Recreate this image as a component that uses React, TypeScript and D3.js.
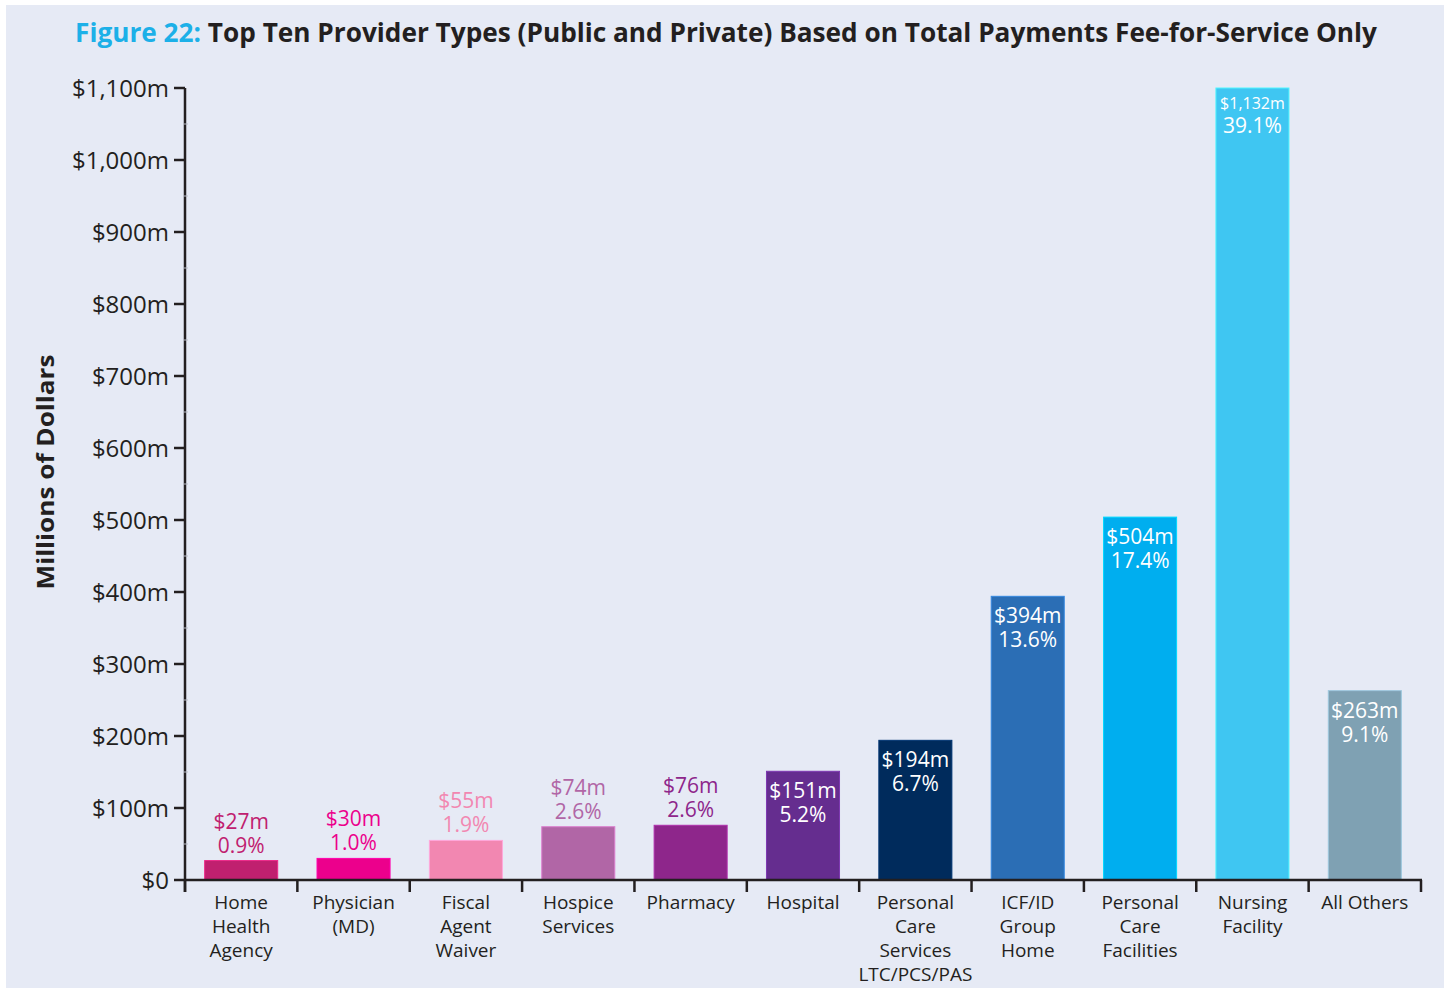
import React from "react";
import * as d3 from "d3";

const categories: string[][] = [
  ["Home", "Health", "Agency"],
  ["Physician", "(MD)"],
  ["Fiscal", "Agent", "Waiver"],
  ["Hospice", "Services"],
  ["Pharmacy"],
  ["Hospital"],
  ["Personal", "Care", "Services", "LTC/PCS/PAS"],
  ["ICF/ID", "Group", "Home"],
  ["Personal", "Care", "Facilities"],
  ["Nursing", "Facility"],
  ["All Others"],
];
const values: number[] = [27, 30, 55, 74, 76, 151, 194, 394, 504, 1132, 263];
const valueLabels: string[] = ["$27m", "$30m", "$55m", "$74m", "$76m", "$151m", "$194m", "$394m", "$504m", "$1,132m", "$263m"];
const pctLabels: string[] = ["0.9%", "1.0%", "1.9%", "2.6%", "2.6%", "5.2%", "6.7%", "13.6%", "17.4%", "39.1%", "9.1%"];
const colors: string[] = ["#c0206f", "#ec008c", "#f287b1", "#b166a6", "#8e268b", "#652d8f", "#002b5c", "#2b6eb5", "#00aeef", "#3fc6f2", "#7fa1b3"];
const yTicks: number[] = [0, 100, 200, 300, 400, 500, 600, 700, 800, 900, 1000, 1100];
const minorTicks: number[] = [50, 150, 250, 350, 450, 550, 650, 750, 850, 950, 1050];

const W = 1449;
const H = 989;
const FONT = "'Open Sans', 'Noto Sans', sans-serif";
const TEXT = "#231f20";

export default function App() {
  const x0 = 185, x1 = 1421, yTop = 88, yBot = 880;
  const keys = categories.map((_, i) => String(i));
  const x = d3.scaleBand<string>().domain(keys).range([x0, x1]).paddingInner(0).paddingOuter(0);
  const y = d3.scaleLinear().domain([0, 1100]).range([yBot, yTop]);
  const bw = x.bandwidth() * 0.65;
  const maxV = y.domain()[1];

  return (
    <svg width={W} height={H} style={{ position: "absolute", left: 0, top: 0 }} fontFamily={FONT}>
      <rect x={0} y={0} width={W} height={H} fill="#ffffff" />
      <rect x={6} y={5} width={1438} height={983} fill="#e6eaf5" />
      <text x={726} y={42} textAnchor="middle" fontSize={27} fontWeight={700} fill={TEXT} textLength={1302} lengthAdjust="spacingAndGlyphs">
        <tspan fill="#1cb0e8">Figure 22:</tspan> Top Ten Provider Types (Public and Private) Based on Total Payments Fee-for-Service Only
      </text>
      <text transform="translate(54,472) rotate(-90)" textAnchor="middle" fontSize={24} fontWeight={700} fill={TEXT} textLength={235} lengthAdjust="spacingAndGlyphs">
        Millions of Dollars
      </text>

      {values.map((v, i) => {
        const cx = (x(String(i)) as number) + x.bandwidth() / 2;
        const top = y(Math.min(v, maxV));
        const inside = i >= 5;
        const big = v > maxV;
        return (
          <g key={i}>
            <rect x={cx - bw / 2} y={top} width={bw} height={yBot - top} fill={colors[i]} stroke={d3.color(colors[i])!.brighter(0.6).formatHex()} strokeWidth={1} />
            {inside ? (
              <text textAnchor="middle" fill="#ffffff">
                <tspan x={cx} y={big ? top + 21 : top + 27} fontSize={big ? 16 : 21}>{valueLabels[i]}</tspan>
                <tspan x={cx} y={big ? top + 45 : top + 51} fontSize={21}>{pctLabels[i]}</tspan>
              </text>
            ) : (
              <text textAnchor="middle" fontSize={21} fill={colors[i]}>
                <tspan x={cx} y={top - 32}>{valueLabels[i]}</tspan>
                <tspan x={cx} y={top - 8}>{pctLabels[i]}</tspan>
              </text>
            )}
          </g>
        );
      })}

      {/* y axis */}
      <line x1={x0} x2={x0} y1={yTop} y2={yBot + 12} stroke={TEXT} strokeWidth={2.5} />
      {minorTicks.map((t) => (
        <line key={"m" + t} x1={x0 - 2} x2={x0 + 3} y1={y(t)} y2={y(t)} stroke="#b9bcc6" strokeWidth={1} />
      ))}
      {yTicks.map((t) => (
        <g key={t}>
          <line x1={x0 - 11} x2={x0} y1={y(t)} y2={y(t)} stroke={TEXT} strokeWidth={2.5} />
          <text x={x0 - 16} y={y(t) + 9} textAnchor="end" fontSize={24} fill={TEXT}>
            {t === 0 ? "$0" : "$" + d3.format(",")(t) + "m"}
          </text>
        </g>
      ))}

      {/* x axis */}
      <line x1={x0} x2={x1 + 1} y1={yBot} y2={yBot} stroke={TEXT} strokeWidth={2.5} />
      {keys.concat([String(keys.length)]).map((k, i) => {
        const xx = i < keys.length ? (x(k) as number) : x1;
        return <line key={"t" + i} x1={xx} x2={xx} y1={yBot} y2={yBot + 12} stroke={TEXT} strokeWidth={2.5} />;
      })}
      {categories.map((lines, i) => {
        const cx = (x(String(i)) as number) + x.bandwidth() / 2;
        return (
          <text key={"c" + i} x={cx} textAnchor="middle" fontSize={19} fill={TEXT}>
            {lines.map((l, j) => (
              <tspan key={j} x={cx} y={909 + j * 24}>{l}</tspan>
            ))}
          </text>
        );
      })}
    </svg>
  );
}
